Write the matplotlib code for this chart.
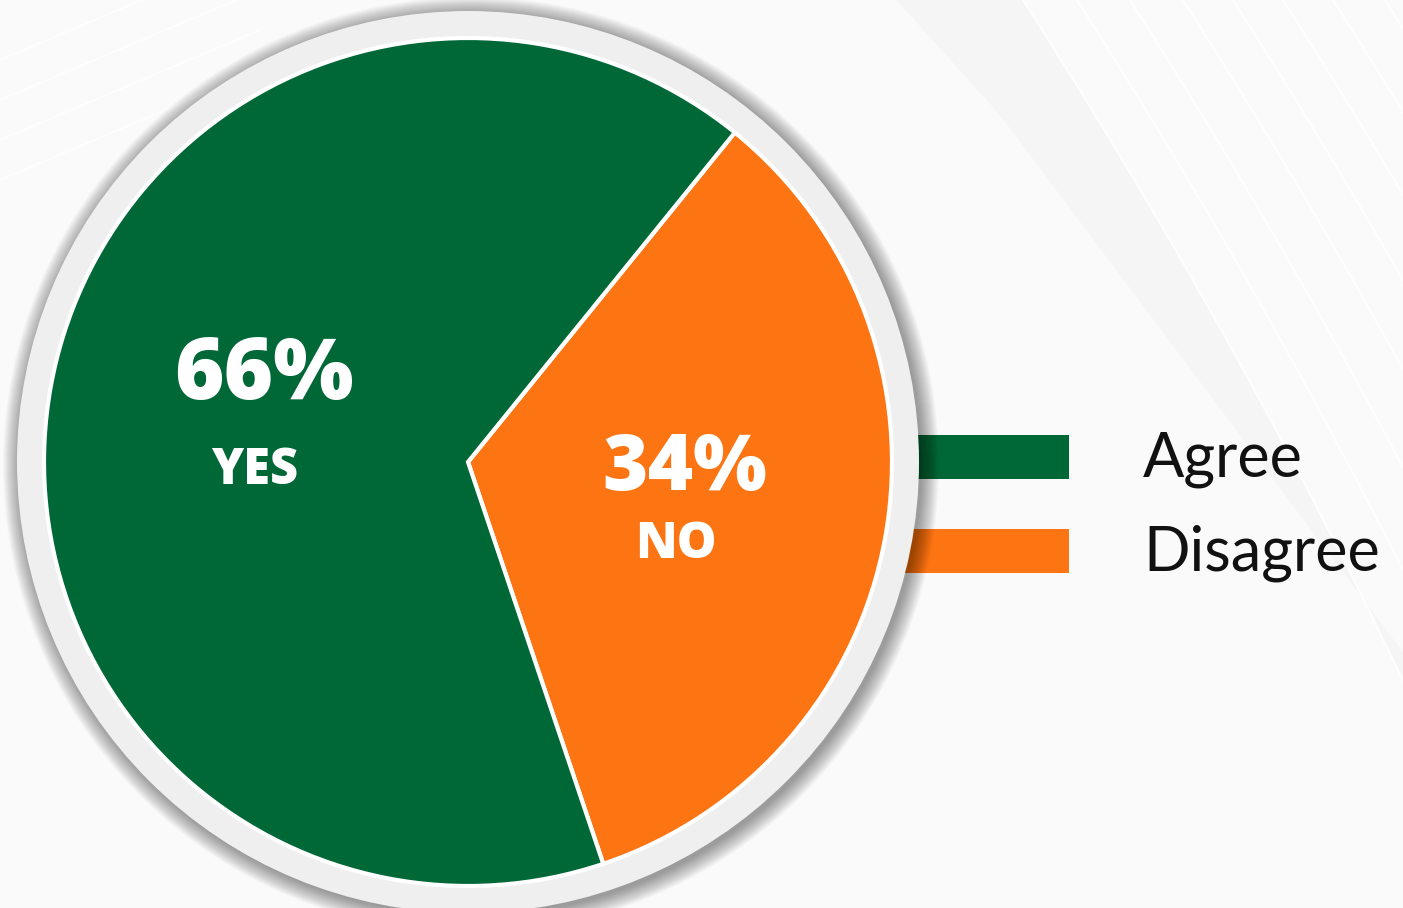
import matplotlib.pyplot as plt
from matplotlib.patches import Circle, Rectangle
import numpy as np

# survey answers
answers = ['Disagree', 'Agree']
shares = [34, 66]
short = ['NO', 'YES']
colors = ['#fd7413', '#006837']

W, H = 1403, 908
fig = plt.figure(figsize=(W/100, H/100), dpi=100)
fig.patch.set_facecolor('#fafafa')
ax = fig.add_axes([0, 0, 1, 1])
ax.set_facecolor('#fafafa')

cx, cy, r = 468, H-462, 424

#faint diagonal streaks in the background
yy = np.linspace(0, 908, 60)
left_edge = np.where(yy < 115, 1000 - 0.9*(115-yy), 1000 + 0.75*(yy-115))
right_edge = 1023 + 0.64*yy - 0.00012*yy**2
ax.fill(np.r_[left_edge, right_edge[::-1]], np.r_[H-yy, (H-yy)[::-1]],
        color='#f5f5f5', zorder=0, lw=0)
for x0 in [1023, 1077, 1130, 1183, 1233, 1283, 1333, 1385]:
    xx = x0 + 0.64*yy - 0.00012*yy**2
    ax.plot(xx, H-yy, color='white', lw=1.5, alpha=0.9, zorder=0.5)
for y0 in [60, 100, 140, 180]:
    ax.plot([0, 260], [H-y0, H-y0+110], color='white', lw=1.2, alpha=0.8, zorder=0.5)

#legend bars, tucked under the ring
legend_y = [H-551, H-457]
for yb, c in zip(legend_y, colors):
    ax.add_patch(Rectangle((860, yb-22), 1069-860, 44, color=c, zorder=1, lw=0))

#soft shadow round the ring
for k in range(18):
    ax.add_patch(Circle((cx+3, cy-3), 451+k, color='#000000', alpha=0.022, zorder=2, lw=0))
ax.add_patch(Circle((cx, cy), 451, color='#efefef', zorder=3, lw=0))

wedges, _ = ax.pie(shares, colors=colors, startangle=51, counterclock=False,
                   center=(cx, cy), radius=r, frame=True,
                   wedgeprops=dict(edgecolor='white', linewidth=3))
for w in wedges:
    w.set_zorder(4)

#percentages inside slices
lab_pos = [(685, 470, 545, 56, 36), (264, 376, 471, 61, 35)]
for (xl, yp, ys, fs, fs2), s, t in zip(lab_pos, shares, short):
    ax.text(xl, H-yp, f'{s}%', color='white', fontsize=fs, fontweight=800,
            family='Open Sans', ha='center', va='center', zorder=5)
    ax.text(xl-9, H-ys, t, color='white', fontsize=fs2, fontweight=800,
            family='Open Sans', ha='center', va='center', zorder=5)

for yb, a in zip(legend_y, answers):
    ax.text(1143, yb-2, a, color='#111111', fontsize=44, family='Lato',
            ha='left', va='center', zorder=5)

ax.set_xlim(0, W)
ax.set_ylim(0, H)
ax.set_aspect('equal')
ax.axis('off')
fig.savefig('out.png', dpi=100, facecolor=fig.get_facecolor())
